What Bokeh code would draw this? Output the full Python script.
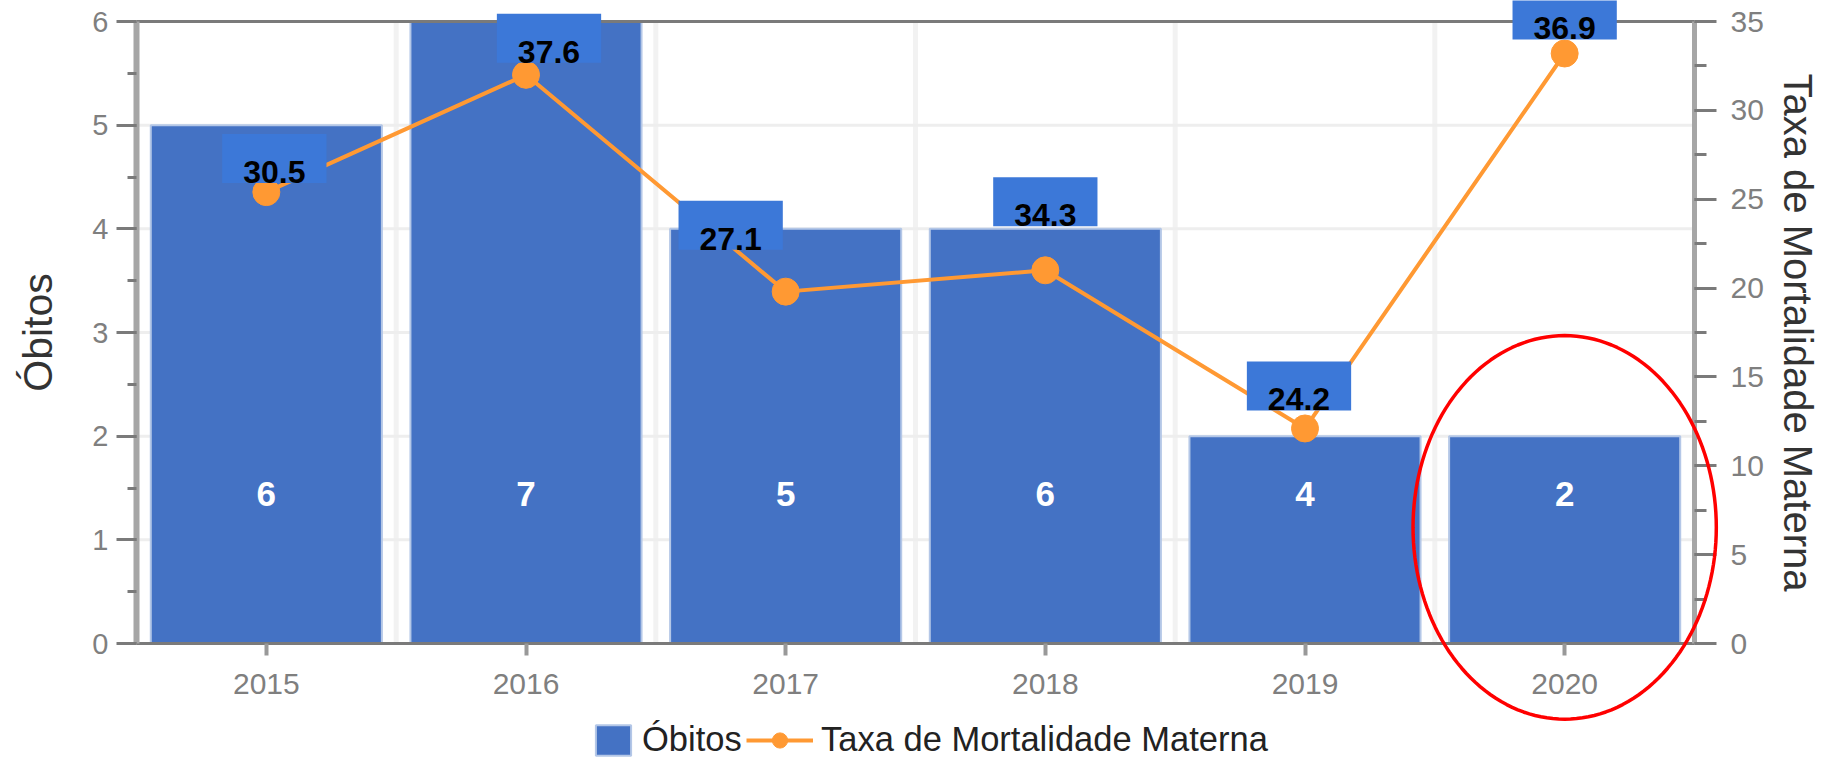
import math
from bokeh.plotting import figure
from bokeh.models import (Range1d, LinearAxis, SingleIntervalTicker, FixedTicker,
                          Legend, LegendItem, Label, PolyAnnotation)
from bokeh.core.properties import value
from bokeh.embed import file_html
from bokeh.resources import INLINE

# ---------------- data ----------------
years = ["2015", "2016", "2017", "2018", "2019", "2020"]
obitos_bar = [5, 6, 4, 4, 2, 2]                      # bar heights as drawn (left axis)
obitos_labels = ["6", "7", "5", "6", "4", "2"]       # numbers printed inside the bars
taxa_line = [25.4, 32.0, 19.8, 21.0, 12.1, 33.2]     # line points as drawn (right axis)
taxa_labels = ["30.5", "37.6", "27.1", "34.3", "24.2", "36.9"]
left_axis_max = 6
right_axis_max = 35
left_axis_title = "Óbitos"
right_axis_title = "Taxa de Mortalidade Materna"
highlight_year = "2020"

# ---------------- styles / layout ----------------
BAR_BLUE = "#4472C4"
BOX_BLUE = "#3c78d8"
ORANGE = "#FF9933"
FONT = "Liberation Sans"
TICK_GREY = "#7f7f7f"
DARK_LINE = "#7a7a7a"
LIGHT_AXIS = "#a6a6a6"
LABEL_Y = 1.44                         # vertical centre of the in-bar numbers
LABEL_DY = [9, 12, 42, 44, 18, 14]     # gap between marker and value box (px)
LABEL_DX = [8, 23, -55, 0, -6, 0]      # horizontal shift of value boxes (px)

W, H = 1829, 759                       # canvas size
PLOT_L, PLOT_R, PLOT_T, PLOT_B = 136.0, 1694.0, 21.0, 643.0   # plot box in canvas px

n = len(years)
xs = list(range(n))
x_lo, x_hi = -0.5, n - 0.5
ppx = (PLOT_R - PLOT_L) / (x_hi - x_lo)
ppy = (PLOT_B - PLOT_T) / left_axis_max
ppr = (PLOT_B - PLOT_T) / right_axis_max

p = figure(width=W, height=H, output_backend="svg", toolbar_location=None,
           x_range=Range1d(x_lo - PLOT_L / ppx, x_hi + (W - PLOT_R) / ppx),
           y_range=Range1d(-(H - PLOT_B) / ppy, left_axis_max + PLOT_T / ppy),
           min_border=0, min_border_left=0, min_border_right=0,
           min_border_top=0, min_border_bottom=0)
p.extra_y_ranges = {"right": Range1d(-(H - PLOT_B) / ppr, right_axis_max + PLOT_T / ppr)}
p.outline_line_color = None
p.background_fill_color = "white"
p.border_fill_color = "white"
p.xgrid.visible = False
p.ygrid.visible = False

# light grid restricted to the plot box
bounds_x = [i + 0.5 for i in xs[:-1]]
p.segment(x0=bounds_x, y0=[0] * len(bounds_x), x1=bounds_x,
          y1=[left_axis_max] * len(bounds_x), line_color="#f2f2f2", line_width=5,
          level="underlay")
grid_y = list(range(1, left_axis_max))
p.segment(x0=[x_lo] * len(grid_y), y0=grid_y, x1=[x_hi] * len(grid_y), y1=grid_y,
          line_color="#eeeeee", line_width=3, level="underlay")

# bars
bars = p.vbar(x=xs, top=obitos_bar, width=0.89, fill_color=BAR_BLUE,
              line_color="#b4c7e7", line_width=2)

# numbers inside bars
p.text(x=xs, y=[LABEL_Y] * n, text=obitos_labels, text_color="white",
       text_font=value(FONT), text_font_style="bold", text_font_size="35px",
       text_align="center", text_baseline="middle")

# line + markers
line = p.line(xs, taxa_line, y_range_name="right", line_color=ORANGE, line_width=4)
dots = p.scatter(xs, taxa_line, y_range_name="right", size=27, fill_color=ORANGE,
                 line_color=ORANGE)

# value boxes
for i, (yv, txt) in enumerate(zip(taxa_line, taxa_labels)):
    p.add_layout(Label(x=xs[i], y=yv, y_range_name="right", text=txt,
                       text_font=FONT, text_font_style="bold", text_font_size="32px",
                       text_color="black", text_align="center", text_baseline="bottom",
                       x_offset=LABEL_DX[i], y_offset=LABEL_DY[i],
                       background_fill_color=BOX_BLUE,
                       padding=dict(left=21, right=21, top=27, bottom=0)))

# ---------------- axes at fixed locations ----------------
xa = p.xaxis[0]
xa.fixed_location = 0
xa.bounds = (x_lo, x_hi)
xa.ticker = FixedTicker(ticks=xs)
xa.major_label_overrides = {i: y for i, y in zip(xs, years)}
xa.minor_tick_line_color = None
xa.major_tick_in = 0
xa.major_tick_out = 12
xa.major_tick_line_color = "#999999"
xa.major_tick_line_width = 4
xa.axis_line_color = DARK_LINE
xa.axis_line_width = 3
xa.major_label_standoff = 18
xa.major_label_text_font = FONT
xa.major_label_text_font_size = "30px"
xa.major_label_text_color = TICK_GREY

top_axis = LinearAxis(fixed_location=left_axis_max, bounds=(x_lo, x_hi),
                      ticker=FixedTicker(ticks=[]), axis_line_color=DARK_LINE,
                      axis_line_width=3, major_tick_line_color=None,
                      minor_tick_line_color=None)
p.add_layout(top_axis, "above")

ya = p.yaxis[0]
ya.fixed_location = x_lo
ya.bounds = (0, left_axis_max)
ya.ticker = SingleIntervalTicker(interval=1, num_minor_ticks=2)
ya.axis_label = left_axis_title
ya.axis_label_text_font = FONT
ya.axis_label_text_font_size = "41px"
ya.axis_label_text_font_style = "normal"
ya.axis_label_text_color = "#333333"
ya.axis_label_standoff = 28
ya.major_label_text_font = FONT
ya.major_label_text_font_size = "29px"
ya.major_label_text_color = TICK_GREY
ya.major_label_standoff = 8
ya.major_tick_in = 0
ya.major_tick_out = 20
ya.minor_tick_in = 0
ya.minor_tick_out = 9
ya.major_tick_line_color = DARK_LINE
ya.minor_tick_line_color = DARK_LINE
ya.major_tick_line_width = 3
ya.minor_tick_line_width = 3
ya.axis_line_color = LIGHT_AXIS
ya.axis_line_width = 6

ra = LinearAxis(y_range_name="right", fixed_location=x_hi, bounds=(0, right_axis_max),
                ticker=SingleIntervalTicker(interval=5, num_minor_ticks=2),
                axis_label=right_axis_title)
ra.axis_label_text_font = FONT
ra.axis_label_text_font_size = "40px"
ra.axis_label_text_font_style = "normal"
ra.axis_label_text_color = "#333333"
ra.axis_label_standoff = 9
ra.major_label_text_font = FONT
ra.major_label_text_font_size = "30px"
ra.major_label_text_color = TICK_GREY
ra.major_label_standoff = 14
ra.major_tick_in = 0
ra.major_tick_out = 22
ra.minor_tick_in = 0
ra.minor_tick_out = 12
ra.major_tick_line_color = DARK_LINE
ra.minor_tick_line_color = DARK_LINE
ra.major_tick_line_width = 3
ra.minor_tick_line_width = 3
ra.axis_line_color = LIGHT_AXIS
ra.axis_line_width = 5
p.add_layout(ra, "right")

# ---------------- legends (two, so each glyph gets its own width) ----------------
common = dict(orientation="horizontal", padding=0, margin=0, border_line_color=None,
              background_fill_alpha=0, label_text_font=FONT,
              label_text_font_size="34.5px", label_text_color="#222222",
              glyph_height=38)
leg1 = Legend(items=[LegendItem(label=left_axis_title, renderers=[bars])],
              location=(591, 0), glyph_width=44, label_standoff=7, **common)
leg2 = Legend(items=[LegendItem(label=right_axis_title, renderers=[line, dots])],
              location=(746, 0), glyph_width=67, label_standoff=8, **common)
p.add_layout(leg1)
p.add_layout(leg2)

# ---------------- red highlight ellipse round the last year ----------------
cx = years.index(highlight_year)
cy, ax_, by_ = 1.12, 0.584, 1.85
m = 160
ex = [cx + ax_ * math.cos(2 * math.pi * k / m) for k in range(m)]
ey = [cy + by_ * math.sin(2 * math.pi * k / m) for k in range(m)]
p.add_layout(PolyAnnotation(xs=ex, ys=ey, fill_color=None, fill_alpha=0,
                            line_color="#ff0000", line_alpha=1.0, line_width=3.5))

open("out.html", "w").write(file_html(p, INLINE))
